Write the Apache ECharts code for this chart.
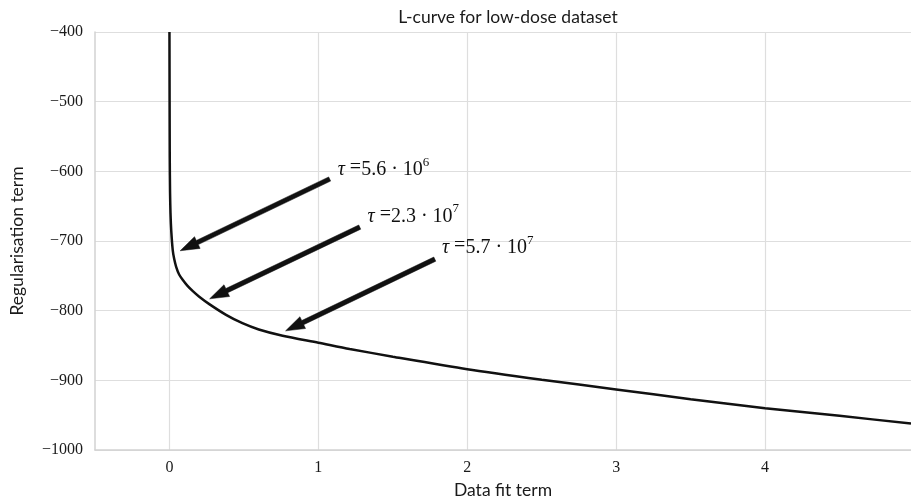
<!DOCTYPE html>
<html>
<head>
<meta charset="utf-8">
<script src="https://cdn.jsdelivr.net/npm/echarts@6/dist/echarts.min.js"></script>
<style>html,body{margin:0;padding:0;background:#fff}#c{width:911px;height:498px}</style>
</head>
<body>
<div id="c"></div>
<script>
// ---- data ----
var curveX = [0, 0.001, 0.002, 0.004, 0.007, 0.012, 0.022, 0.032, 0.045, 0.065, 0.09, 0.12, 0.157, 0.2, 0.27, 0.38, 0.49, 0.6, 0.76, 1.0, 1.21, 1.5, 2.0, 2.5, 3.0, 3.5, 4.0, 4.5, 4.98];
var curveY = [-400, -500, -580, -630, -660, -685, -713, -726, -737, -748, -756, -764, -772, -780, -791, -806, -818, -827, -836, -846, -855, -866, -884, -899, -913, -927, -940, -951, -962];
var xTicks = [0, 1, 2, 3, 4];
var arrowTailX = [1.076, 1.278, 1.782];
var arrowTailY = [-611, -680, -726];
var arrowHeadX = [0.072, 0.27, 0.78];
var arrowHeadY = [-714, -783, -829];
var labelX = [1.13, 1.33, 1.83];
var labelY = [-595, -662, -707];
var labelMantissa = ['5.6', '2.3', '5.7'];
var labelExponent = ['6', '7', '7'];
var titleText = 'L-curve for low-dose dataset';
var xName = 'Data fit term';
var yName = 'Regularisation term';

// ---- build ----
var curve = curveX.map(function (x, i) { return [x, curveY[i]]; });
var arrows = arrowTailX.map(function (x, i) {
  return [x, arrowTailY[i], arrowHeadX[i], arrowHeadY[i], labelX[i], labelY[i], i];
});
var sansFont = 'Lato';
var serifFont = 'Liberation Serif';
var gridColor = '#dedede';

function fmtMinus(v) { return String(v).replace('-', '\u2212'); }

var chart = echarts.init(document.getElementById('c'), null, { renderer: 'canvas' });
chart.setOption({
  animation: false,
  backgroundColor: '#fff',
  title: {
    text: titleText, left: 503, top: 3, textAlign: 'center',
    textStyle: { fontFamily: sansFont, fontSize: 17.5, fontWeight: 'normal', color: '#1a1a1a' }
  },
  grid: { left: 95, right: 0, top: 32, bottom: 48, outerBoundsMode: 'none', containLabel: false },
  xAxis: {
    type: 'value', min: -0.5, max: 4.98,
    name: xName, nameLocation: 'middle', nameGap: 30,
    nameTextStyle: { fontFamily: sansFont, fontSize: 17.5, color: '#1a1a1a' },
    axisLine: { show: true, onZero: false, lineStyle: { color: '#d2d2d2', width: 1.5 } },
    axisTick: { show: false, customValues: xTicks },
    axisLabel: { customValues: xTicks, margin: 10, fontFamily: serifFont, fontSize: 16, color: '#1a1a1a', formatter: fmtMinus },
    splitLine: { show: true, lineStyle: { color: gridColor, width: 1.2 } }
  },
  yAxis: {
    type: 'value', min: -1000, max: -400, interval: 100,
    name: yName, nameLocation: 'middle', nameGap: 69,
    nameTextStyle: { fontFamily: sansFont, fontSize: 17.5, color: '#1a1a1a' },
    axisLine: { show: true, onZero: false, lineStyle: { color: '#d2d2d2', width: 1.5 } },
    axisTick: { show: false },
    axisLabel: { margin: 12, fontFamily: serifFont, fontSize: 16, color: '#1a1a1a', formatter: fmtMinus },
    splitLine: { show: true, lineStyle: { color: gridColor, width: 1.2 } }
  },
  series: [
    {
      type: 'line', data: curve, showSymbol: false, symbol: 'none',
      smooth: 0.25,
      lineStyle: { color: '#111', width: 2.5 }, z: 3
    },
    {
      type: 'custom', data: arrows, z: 4,
      renderItem: function (params, api) {
        var t = api.coord([api.value(0), api.value(1)]);
        var h = api.coord([api.value(2), api.value(3)]);
        var l = api.coord([api.value(4), api.value(5)]);
        var idx = api.value(6);
        var dx = h[0] - t[0], dy = h[1] - t[1];
        var len = Math.sqrt(dx * dx + dy * dy);
        var ux = dx / len, uy = dy / len;
        var px = -uy, py = ux;
        var sw = 2.3, hw = 6.5, hl = 19;
        var bx = h[0] - ux * hl, by = h[1] - uy * hl;
        var pts = [
          [t[0] + px * sw, t[1] + py * sw],
          [bx + px * sw, by + py * sw],
          [bx + px * hw, by + py * hw],
          [h[0], h[1]],
          [bx - px * hw, by - py * hw],
          [bx - px * sw, by - py * sw],
          [t[0] - px * sw, t[1] - py * sw]
        ];
        return {
          type: 'group',
          children: [
            { type: 'polygon', shape: { points: pts }, style: { fill: '#111', stroke: '#111', lineWidth: 0.5 } },
            {
              type: 'text', x: l[0], y: l[1],
              style: {
                text: '{t|\u03c4} ={m|' + labelMantissa[idx] + ' \u00b7 10}{s|' + labelExponent[idx] + '}',
                fontFamily: serifFont, fontSize: 20, fill: '#111',
                verticalAlign: 'middle', align: 'left',
                rich: {
                  t: { fontFamily: serifFont, fontStyle: 'italic', fontSize: 20, lineHeight: 24, verticalAlign: 'bottom' },
                  m: { fontFamily: serifFont, fontSize: 20, lineHeight: 24, verticalAlign: 'bottom' },
                  s: { fontFamily: serifFont, fontSize: 13, lineHeight: 24, verticalAlign: 'top' }
                }
              }
            }
          ]
        };
      }
    }
  ]
});
</script>
</body>
</html>
